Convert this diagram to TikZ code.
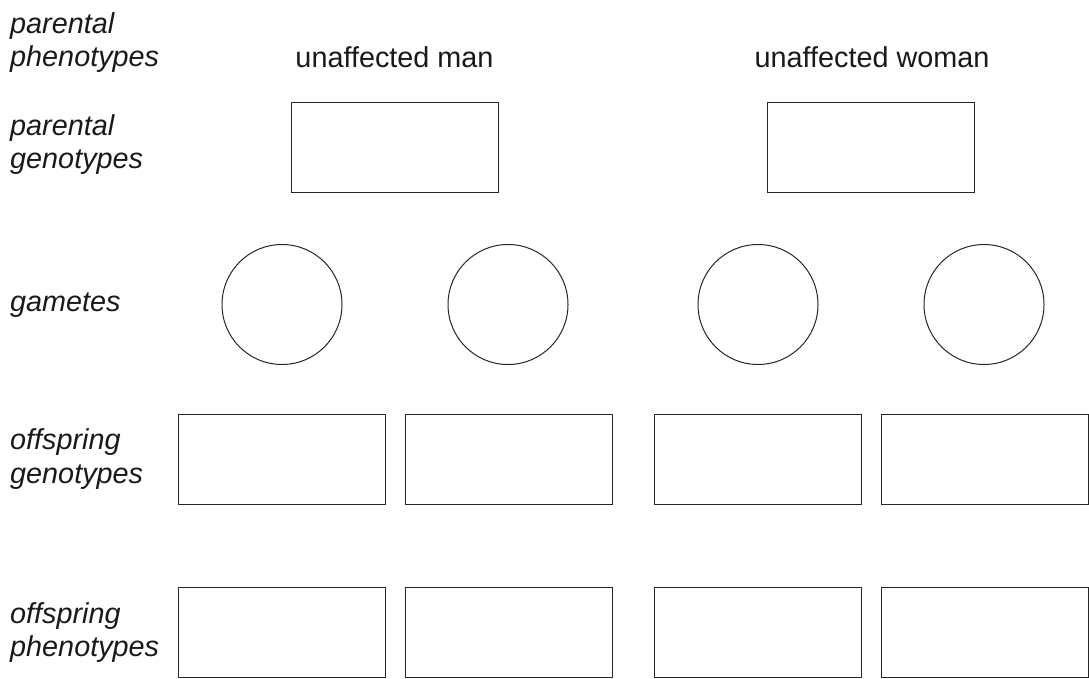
\documentclass[tikz,border=0pt]{standalone}
\usepackage{fontspec}
\setmainfont{Liberation Sans}
\usepackage{tikz}
\usetikzlibrary{positioning}

\begin{document}
\begin{tikzpicture}[
        x=1pt, y=-1pt,
        lbl/.style={anchor=base west, inner sep=0pt, align=left, text=black!90, font=\fontsize{28.8}{33.5}\selectfont\itshape},
        phen/.style={anchor=base, inner sep=0pt, text=black!90, font=\fontsize{28.8}{33.5}\selectfont},
        answer/.style={rectangle, draw=black!85, line width=1pt, minimum width=207pt, minimum height=90pt, inner sep=0pt},
        gamete/.style={circle, draw=black!85, line width=1pt, minimum size=120pt, inner sep=0pt}
    ]
        \useasboundingbox (0,0) rectangle (1089,678);
        % row labels (base = last line)
        \node[lbl] (lpp) at (10,66.7) {parental\\phenotypes};
        \node[lbl] (lpg) at (10,168.5) {parental\\genotypes};
        \node[lbl] (lga) at (10,311.5) {gametes};
        \node[lbl] (log) at (10,483) {offspring\\genotypes};
        \node[lbl] (lop) at (10,656.5) {offspring\\phenotypes};
        % parents
        \node[phen] (man) at (394.5,67) {unaffected man};
        \node[phen] (woman) at (872,67) {unaffected woman};
        \node[answer] (pgm) at (394.5,147) {};
        \node[answer] (pgw) at (871,147) {};
        % gametes
        \node[gamete] (ga) at (282,304.5) {};
        \node[gamete] (gb) at (508,304.5) {};
        \node[gamete] (gc) at (758,304.5) {};
        \node[gamete] (gd) at (984,304.5) {};
        % offspring
        \node[answer] (oga) at (281.5,459) {};
        \node[answer] (ogb) at (508.5,459) {};
        \node[answer] (ogc) at (758,459) {};
        \node[answer] (ogd) at (984.5,459) {};
        \node[answer] (opa) at (281.5,632.5) {};
        \node[answer] (opb) at (508.5,632.5) {};
        \node[answer] (opc) at (758,632.5) {};
        \node[answer] (opd) at (984.5,632.5) {};
    \end{tikzpicture}
\end{document}
